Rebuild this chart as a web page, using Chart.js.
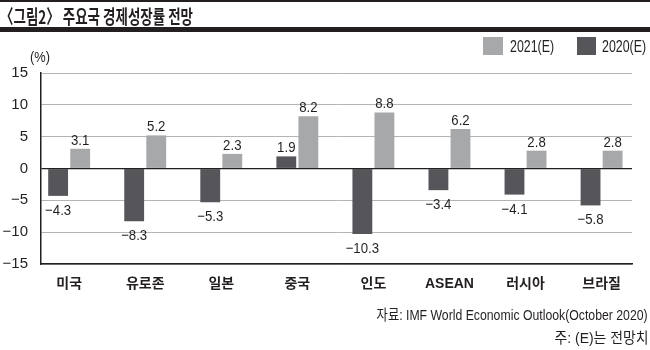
<!DOCTYPE html>
<html><head><meta charset="utf-8">
<script src="https://cdn.jsdelivr.net/npm/chart.js@4.4.1/dist/chart.umd.min.js"></script>
<style>
html,body{margin:0;padding:0;background:#fff;}
#wrap{position:relative;width:650px;height:350px;overflow:hidden;font-family:"Liberation Sans","Noto Sans CJK KR",sans-serif;color:#231f20;}
canvas{position:absolute;left:0;top:0;}
.t{position:absolute;white-space:nowrap;line-height:1;}
</style></head><body>
<div id="wrap">
<canvas id="c" width="650" height="350"></canvas>
<div class="t" style="left:0;top:0;width:650px;height:2px;background:#231f20"></div>
<div class="t fit" data-w="193" data-o="left" style="left:0;top:2px;font:bold 19px 'Noto Sans CJK KR'">〈그림2〉 주요국 경제성장률 전망</div>
<div class="t" style="left:0;top:27px;width:650px;height:5px;background:#231f20"></div>
<div class="t" style="left:483px;top:37px;width:20px;height:18px;background:#a7a8aa"></div>
<div class="t fit" data-w="44" data-o="left" style="left:510px;top:38px;font-size:17px">2021(E)</div>
<div class="t" style="left:577px;top:37px;width:19px;height:18px;background:#55555a"></div>
<div class="t fit" data-w="44" data-o="left" style="left:602px;top:38px;font-size:17px">2020(E)</div>
<div class="t fit" data-w="20" data-o="left" style="left:30px;top:49px;font-size:15px">(%)</div>
<div class="t fit" data-w="271" data-o="right" style="right:2px;top:307px;font-size:15px">자료: IMF World Economic Outlook(October 2020)</div>
<div class="t fit" data-w="94" data-o="right" style="right:2px;top:330px;font-size:15px">주: (E)는 전망치</div>
</div>
<script>
const categories = ["미국","유로존","일본","중국","인도","ASEAN","러시아","브라질"];
const series2020 = [-4.3,-8.3,-5.3,1.9,-10.3,-3.4,-4.1,-5.8];
const series2021 = [3.1,5.2,2.3,8.2,8.8,6.2,2.8,2.8];
const seriesNames = ["2020(E)","2021(E)"];
const yTicks = [15,10,5,0,-5,-10,-15];

document.querySelectorAll(".fit").forEach(el => {
  const w = el.getBoundingClientRect().width;
  el.style.transformOrigin = el.dataset.o === "right" ? "100% 0" : "0 0";
  el.style.transform = "scaleX(" + (parseFloat(el.dataset.w) / w) + ")";
});

const fmt = v => (v < 0 ? "−" + Math.abs(v) : String(v));

const labelPlugin = {
  id: "vals",
  afterDatasetsDraw(chart) {
    const ctx = chart.ctx;
    ctx.save();
    ctx.fillStyle = "#231f20";
    ctx.font = "15px 'Liberation Sans'";
    ctx.textAlign = "center";
    ctx.textBaseline = "alphabetic";
    chart.data.datasets.forEach((ds, di) => {
      chart.getDatasetMeta(di).data.forEach((bar, i) => {
        const v = ds.data[i].y;
        const t = fmt(v);
        ctx.save();
        const y = v >= 0 ? bar.y - 4 : bar.y + 19;
        ctx.translate(bar.x, y);
        ctx.scale(0.88, 1);
        ctx.fillText(t, 0, 0);
        ctx.restore();
      });
    });
    ctx.restore();
  }
};

new Chart(document.getElementById("c"), {
  type: "bar",
  data: {
    datasets: [
      { label: seriesNames[0], data: series2020.map((y, x) => ({x, y})), backgroundColor: "#55555a" },
      { label: seriesNames[1], data: series2021.map((y, x) => ({x, y})), backgroundColor: "#a7a8aa" }
    ]
  },
  options: {
    responsive: false,
    animation: false,
    events: [],
    categoryPercentage: 0.58,
    barPercentage: 0.9,
    layout: { padding: { top: 73, right: 18, bottom: 0, left: 0 } },
    plugins: { legend: { display: false }, tooltip: { enabled: false } },
    scales: {
      x: {
        type: "linear",
        offset: false,
        min: -0.37, max: 7.4,
        afterBuildTicks: s => { s.ticks = categories.map((_, i) => ({ value: i })); },
        afterFit: s => { s.height = 86; },
        grid: { display: false, drawTicks: false, offset: false },
        border: { display: true, color: "#231f20", width: 1.5 },
        ticks: {
          padding: 12,
          color: "#231f20",
          font: { size: 14, weight: "bold", family: "'Liberation Sans','Noto Sans CJK KR'" },
          callback: v => categories[v] ?? ""
        }
      },
      y: {
        min: -15, max: 15,
        afterBuildTicks: s => { s.ticks = yTicks.map(v => ({ value: v })); },
        afterFit: s => { s.width = 41; },
        grid: {
          drawTicks: false,
          color: c => (c.tick && c.tick.value === 0 ? "#231f20" : "#b4b4b4"),
          lineWidth: c => (c.tick && c.tick.value === 0 ? 1.2 : 1)
        },
        border: { display: true, color: "#231f20", width: 1.5 },
        ticks: {
          padding: 13,
          color: "#231f20",
          font: { size: 15, family: "'Liberation Sans'" },
          callback: v => fmt(v)
        }
      }
    }
  },
  plugins: [labelPlugin]
});
</script>
</body></html>
